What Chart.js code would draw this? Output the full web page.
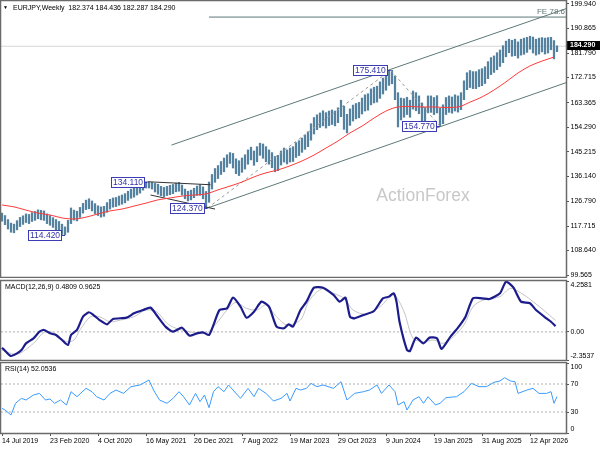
<!DOCTYPE html>
<html>
<head>
<meta charset="utf-8">
<script src="https://cdn.jsdelivr.net/npm/chart.js@4.4.1/dist/chart.umd.min.js"></script>
<style>
  html, body { margin: 0; padding: 0; background: #fff; }
  #wrap { position: relative; width: 600px; height: 450px; overflow: hidden; }
  canvas { position: absolute; left: 0; }
</style>
</head>
<body>
<div id="wrap">
  <canvas id="mainChart" width="600" height="278" style="top:0"></canvas>
  <canvas id="macdChart" width="600" height="82" style="top:279px"></canvas>
  <canvas id="rsiChart" width="600" height="89" style="top:361px"></canvas>
</div>
<script>
const FONT = '"Liberation Sans", Arial, "DejaVu Sans", sans-serif';

// Eje de tiempo: semanas contadas desde el 14 Jul 2019
const labelWeeks = [0, 32, 64, 96, 128, 160, 192, 224, 256, 288, 320, 352];
const weekLabels = ['14 Jul 2019', '23 Feb 2020', '4 Oct 2020', '16 May 2021', '26 Dec 2021', '7 Aug 2022',
                    '19 Mar 2023', '29 Oct 2023', '9 Jun 2024', '19 Jan 2025', '31 Aug 2025', '12 Apr 2026'];

// Precio (barras cada 2 semanas: mínimo y máximo)
const priceTicks = [199.940, 190.865, 181.790, 172.715, 163.365, 154.290, 145.215, 136.140, 126.790, 117.715, 108.640, 99.565];
const priceLow = [
  119.5,118.2,116.6,115.4,115.2,116.3,117.5,118.3,119.0,118.6,
  119.4,119.8,120.4,120.0,119.8,118.6,118.0,117.2,115.9,115.5,
  114.6,114.42,115.4,118.6,119.9,119.6,120.9,122.5,123.8,124.1,
  123.3,122.3,121.6,121.0,121.3,122.8,124.0,124.7,124.9,125.4,
  125.8,126.3,127.2,128.0,128.4,129.2,129.9,131.0,131.8,131.8,
  131.4,130.3,129.5,128.9,128.6,129.0,129.3,129.7,130.4,130.6,
  129.2,127.8,127.0,127.4,128.2,129.0,129.1,127.8,124.37,126.5,
  131.4,133.9,135.3,136.8,137.8,139.5,140.9,139.2,137.1,136.4,
  137.6,138.8,140.6,142.2,140.2,141.5,143.9,142.8,141.5,140.6,
  139.3,137.8,138.2,140.3,141.4,140.7,141.4,141.6,143.1,143.8,
  145.0,146.1,147.1,149.5,151.8,153.4,154.2,154.8,154.0,154.9,
  155.3,154.8,156.0,158.2,153.5,152.2,155.0,156.6,157.4,157.8,
  159.2,160.3,160.6,162.6,163.3,163.6,165.0,166.6,168.0,169.8,
  170.4,164.5,154.4,157.0,158.0,159.0,158.0,161.0,160.4,159.3,
  156.6,155.2,159.6,159.8,159.0,159.6,154.77,155.6,159.0,159.8,
  159.5,160.3,159.9,160.8,164.5,168.2,169.0,168.6,168.6,169.3,
  169.7,170.5,172.3,173.8,174.6,175.6,176.8,178.2,180.4,181.9,
  180.6,180.8,179.9,181.0,181.3,182.0,183.2,181.8,181.0,181.4,
  182.2,181.4,181.8,183.0,179.6,182.287
];
const priceHigh = [
  122.5,121.6,120.1,118.8,118.4,119.7,120.9,121.5,122.2,122.0,
  122.7,123.1,123.7,123.5,123.3,122.2,121.6,120.8,120.1,119.4,
  118.4,117.4,119.8,124.4,123.6,123.2,124.6,126.1,127.3,127.8,
  127.0,126.0,125.2,124.8,125.0,126.4,127.6,128.1,128.3,128.8,
  129.2,129.7,130.6,131.4,131.8,132.6,133.3,134.0,134.11,134.0,
  133.9,133.5,133.2,132.4,132.0,132.4,132.8,133.1,133.6,133.9,
  132.9,131.4,130.6,131.0,131.7,132.5,133.0,132.2,130.5,134.0,
  136.8,139.0,140.1,141.6,142.9,144.1,144.9,144.6,142.6,141.9,
  142.9,144.1,145.9,146.9,145.5,147.1,148.4,148.1,147.1,145.9,
  144.9,143.5,143.9,145.5,146.6,145.9,146.6,147.1,148.6,149.3,
  150.3,151.4,152.6,155.6,157.9,158.9,159.6,160.4,159.7,160.3,
  160.7,160.3,161.5,164.3,162.1,159.1,161.1,162.5,163.1,163.5,
  165.1,166.3,166.7,168.5,169.1,169.5,171.1,172.5,174.1,175.2,
  175.41,173.2,167.1,165.1,164.9,165.4,164.3,167.7,167.1,165.9,
  163.3,161.6,165.9,165.9,165.3,166.0,161.3,162.6,165.3,165.9,
  165.5,166.3,165.9,167.1,171.5,174.5,175.3,174.9,174.9,175.6,
  176.0,176.7,178.6,180.1,180.7,181.9,182.9,184.5,186.2,186.9,
  186.5,186.9,185.9,186.9,187.3,187.6,188.0,187.7,186.9,187.3,
  187.5,187.3,187.5,187.6,186.4,184.436
];
const lastOHLC = [182.374, 184.436, 182.287, 184.290];

// Media móvil (cada 8 semanas)
const maValues = [125.5,124.8,123.6,122.5,121.8,120.7,120.3,121.0,122.2,123.3,124.0,125.1,126.2,127.4,128.1,128.8,
  129.2,129.6,131.1,132.5,134.0,135.9,137.4,138.5,140.0,141.8,144.0,146.6,149.2,152.2,154.7,157.7,
  160.3,161.8,162.0,161.8,161.8,161.6,161.8,163.6,165.5,168.1,171.1,174.4,177.0,178.8,180.3];

// Pivotes marcados y líneas dibujadas
const pivotWeeks = [42, 97, 137, 259, 292];
const pivotValues = [114.42, 134.11, 124.37, 175.41, 154.77];
const upperChannel = [[113, 147.7], [376, 198.2]];
const lowerChannel = [[137, 124.37], [376, 170.8]];
const upperWedge = [[97, 134.11], [139, 133.0]];
const lowerWedge = [[99, 129.2], [142, 124.0]];
const feLevel = 195.1;
const feText = 'FE 78.6';

// MACD(12,26,9)
const macdWeeks = [0,3,6,10,13,16,21,25,28,32,36,40,44,46,50,54,58,61,65,70,74,83,88,94,99,103,109,114,120,125,
  130,134,138,141,145,150,154,159,163,168,173,178,183,188,191,194,199,203,208,214,221,225,229,232,235,241,248,254,258,261,
  263,265,270,272,276,281,285,290,293,299,304,309,314,320,325,332,336,341,346,352,356,363,366,369];
const macdValues = [-1.32,-1.71,-2.02,-1.80,-1.52,-0.96,-0.54,0.02,0.16,-0.12,-0.26,-0.68,-1.10,-0.26,0.16,1.27,1.64,1.41,0.99,0.63,
  1.08,1.19,1.55,1.83,2.03,1.41,0.44,0.02,0.35,-0.32,-0.12,-0.04,-0.26,0.58,1.83,1.97,2.86,2.11,1.19,1.69,
  2.53,2.11,0.44,0.30,0.63,0.44,1.83,2.53,3.70,3.70,3.09,2.53,2.86,1.27,1.13,1.41,1.75,2.81,2.95,3.23,
  2.53,0.85,-1.52,-1.60,-0.48,-0.96,-0.48,-0.54,-1.43,-0.40,0.35,1.27,2.81,2.81,2.75,3.23,4.20,3.70,2.53,2.39,
  1.83,1.13,0.85,0.48];
const signalWeeks = [0,10,21,28,34,43,48,52,59,65,72,79,88,96,103,110,116,125,136,143,150,156,163,170,176,183,190,199,205,214,
  221,228,234,243,252,261,268,274,281,288,294,301,308,314,321,332,339,348,354,361,369];
const signalValues = [-1.52,-1.88,-0.96,-0.04,-0.04,-0.82,-0.68,0.16,1.27,1.27,0.85,0.99,1.27,1.83,1.69,0.72,0.30,0.02,-0.12,0.72,
  1.83,2.47,1.97,1.83,2.25,1.27,0.58,0.99,2.67,3.64,3.23,2.81,1.83,1.47,2.11,3.09,1.69,-0.54,-0.82,-0.68,
  -0.96,-0.40,0.58,2.11,2.67,2.95,3.64,3.09,2.53,1.83,0.96];
const macdTicks = [4.2581, 0, -2.3537];
const macdLevels = [0];
const macdNow = [0.4809, 0.9625];

// RSI(14)
const rsiWeeks = [0,2,6,9,13,16,21,25,29,32,35,39,43,46,50,56,60,63,68,72,76,81,86,92,98,101,105,110,114,118,
  121,125,129,132,135,138,141,144,148,151,154,159,164,168,171,176,181,186,190,192,196,199,203,206,210,214,221,226,230,235,
  241,245,250,253,258,262,264,268,270,274,278,281,284,289,292,296,303,308,313,318,323,328,332,335,339,342,344,350,354,358,
  363,366,368,370];
const rsiValues = [35.2,32.9,25.7,42.4,49.5,47.1,54.3,56.6,47.1,48.6,42.4,47.1,40.0,59.0,51.9,63.8,59.0,51.9,47.1,56.6,
  61.4,56.6,66.2,68.6,75.7,61.4,47.1,42.4,49.5,59.0,51.9,40.0,56.6,44.8,54.3,36.2,59.0,66.2,59.0,68.6,
  61.4,49.5,63.8,51.9,63.8,56.6,45.7,49.5,56.6,45.7,63.8,61.4,63.8,70.9,66.2,68.6,63.8,73.3,47.1,56.6,
  59.0,61.4,68.6,56.6,68.6,59.0,40.0,44.8,32.9,47.1,51.9,42.4,51.9,40.0,42.4,50.5,51.9,59.0,70.9,66.2,
  66.2,72.4,74.3,79.0,74.3,73.3,56.6,61.4,63.8,56.6,56.6,59.0,42.4,52.05];
const rsiTicks = [100, 70, 30, 0];
const rsiLevels = [70, 30];
const rsiNow = 52.0536;

const X_MIN = -0.67, X_MAX = 376;

Chart.defaults.animation = false;
Chart.defaults.font.family = FONT;
Chart.defaults.events = [];
Chart.defaults.plugins.legend.display = false;
Chart.defaults.plugins.tooltip.enabled = false;

const toXY = (weeks, values) => weeks.map((w, i) => ({ x: w, y: values[i] }));
const pairXY = pts => pts.map(p => ({ x: p[0], y: p[1] }));
const levelXY = v => [{ x: X_MIN, y: v }, { x: X_MAX, y: v }];
const pivotXY = (a, b) => [{ x: pivotWeeks[a], y: pivotValues[a] }, { x: pivotWeeks[b], y: pivotValues[b] }];

function lineDs(data, color, width, extra) {
  return Object.assign({ type: 'line', data, borderColor: color, borderWidth: width,
    pointRadius: 0, fill: false, tension: 0 }, extra || {});
}

function yScale(min, max, ticks) {
  return {
    position: 'right', min, max,
    afterBuildTicks: s => { s.ticks = ticks.map(v => ({ value: v })); },
    afterFit: s => { s.width = 34; },
    ticks: { display: false },
    grid: { drawOnChartArea: false, drawTicks: true, tickLength: 3, color: '#555' },
    border: { display: true, color: '#555' }
  };
}

const hiddenX = { type: 'linear', min: X_MIN, max: X_MAX, offset: false, display: false };

// Etiquetas del eje derecho, metidas hacia dentro en los extremos (como MT4)
function sideLabels(format, margin) {
  return {
    id: 'sideLabels',
    afterDraw(chart) {
      const { ctx, chartArea: a, scales: { y } } = chart;
      ctx.save();
      ctx.font = '7px ' + FONT;
      ctx.fillStyle = '#000';
      ctx.textBaseline = 'middle';
      y.ticks.forEach(t => {
        let py = y.getPixelForValue(t.value);
        py = Math.min(Math.max(py, a.top + margin), a.bottom - margin);
        ctx.fillText(format(t.value), a.right + 4.5, py);
      });
      ctx.restore();
    }
  };
}

const panelFrame = {
  id: 'panelFrame',
  afterDatasetsDraw(chart) {
    const { ctx, chartArea: a } = chart;
    ctx.save();
    ctx.strokeStyle = '#6a6a6a';
    ctx.lineWidth = 1.5;
    ctx.strokeRect(a.left - 0.5, a.top - 0.5, a.right - a.left + 1, a.bottom - a.top + 1);
    ctx.restore();
  }
};

function panelTitle(text) {
  return {
    id: 'panelTitle',
    afterDraw(chart) {
      const { ctx, chartArea: a } = chart;
      ctx.save();
      ctx.font = '7px ' + FONT;
      ctx.fillStyle = '#000';
      ctx.textBaseline = 'middle';
      ctx.fillText(text, a.left + 4, a.top + 6);
      ctx.restore();
    }
  };
}

const mainDecor = {
  id: 'mainDecor',
  beforeDatasetsDraw(chart) {
    const { ctx } = chart;
    ctx.save();
    ctx.font = '17.5px ' + FONT;
    ctx.fillStyle = '#c8c8c8';
    ctx.textAlign = 'center';
    ctx.textBaseline = 'middle';
    ctx.fillText('ActionForex', 423, 196);
    ctx.restore();
  },
  afterDatasetsDraw(chart) {
    const { ctx, chartArea: a, scales: { x, y } } = chart;
    ctx.save();

    // cajas de los pivotes
    ctx.font = '8.5px ' + FONT;
    ctx.textBaseline = 'middle';
    pivotWeeks.forEach((w, i) => {
      const px = x.getPixelForValue(w);
      const py = Math.round(y.getPixelForValue(pivotValues[i]));
      const txt = pivotValues[i].toFixed(3);
      const tw = ctx.measureText(txt).width;
      const right = Math.round(px - 4), left = Math.round(right - tw - 3);
      ctx.strokeStyle = '#3c3cb4';
      ctx.lineWidth = 1;
      ctx.beginPath();
      ctx.moveTo(right, py + 0.5);
      ctx.lineTo(px, py + 0.5);
      ctx.stroke();
      ctx.fillStyle = '#fff';
      ctx.fillRect(left, py - 4, right - left, 10);
      ctx.strokeRect(left + 0.5, py - 4.5, right - left, 10);
      ctx.fillStyle = '#3333a8';
      ctx.fillText(txt, left + 2, py + 1);
    });

    // texto del nivel FE
    ctx.font = '8px ' + FONT;
    ctx.fillStyle = '#5f7575';
    ctx.textAlign = 'right';
    ctx.textBaseline = 'bottom';
    ctx.fillText(feText, a.right - 1, y.getPixelForValue(feLevel) - 1);

    // cabecera
    ctx.textAlign = 'left';
    ctx.textBaseline = 'middle';
    ctx.fillStyle = '#000';
    ctx.font = '5px ' + FONT;
    ctx.fillText('\u25BC', 3, 8);
    ctx.font = '7px ' + FONT;
    ctx.fillText('EURJPY,Weekly  ' + lastOHLC.map(v => v.toFixed(3)).join(' '), 13, 8);

    // etiqueta del último precio
    const ty = Math.round(y.getPixelForValue(lastOHLC[3]));
    ctx.fillStyle = '#000';
    ctx.fillRect(a.right + 1, ty - 5, 33, 9);
    ctx.fillStyle = '#fff';
    ctx.font = 'bold 7px ' + FONT;
    ctx.fillText(lastOHLC[3].toFixed(3), a.right + 4, ty - 0.5);
    ctx.restore();
  }
};

const bars = priceLow.map((lo, i) => ({ x: i * 2, y: [lo, priceHigh[i]] }));
const maData = maValues.map((v, i) => ({ x: i * 8, y: v }));

new Chart(document.getElementById('mainChart'), {
  type: 'bar',
  data: {
    datasets: [
      lineDs(maData, '#ff3b3b', 1, { cubicInterpolationMode: 'monotone' }),
      lineDs(pairXY(upperWedge), '#333', 1),
      lineDs(pairXY(lowerWedge), '#333', 1),
      lineDs(pivotXY(2, 3), '#9a9a9a', 1, { borderDash: [3, 3] }),
      lineDs(pivotXY(3, 4), '#9a9a9a', 1, { borderDash: [3, 3] }),
      { type: 'bar', data: bars, backgroundColor: '#55839f', barThickness: 1.6, grouped: false },
      lineDs(pairXY(upperChannel), '#5d7878', 1),
      lineDs(pairXY(lowerChannel), '#5d7878', 1),
      lineDs(levelXY(feLevel).map(p => ({ x: Math.max(p.x, 138), y: p.y })), '#5d7878', 1),
      lineDs(levelXY(lastOHLC[3]), '#d6d6d6', 1)
    ]
  },
  options: {
    responsive: false,
    layout: { padding: { top: 1, bottom: 1, left: 1, right: 0 } },
    scales: { x: hiddenX, y: yScale(98.83, 201.05, priceTicks) }
  },
  plugins: [mainDecor, panelFrame, sideLabels(v => v.toFixed(3), 2)]
});

new Chart(document.getElementById('macdChart'), {
  type: 'line',
  data: {
    datasets: [
      lineDs(toXY(macdWeeks, macdValues), '#1c1c8c', 2.2, { tension: 0.2 }),
      lineDs(toXY(signalWeeks, signalValues), '#c4c4c4', 1, { tension: 0.3 }),
      lineDs(levelXY(macdLevels[0]), '#b0b0b0', 1, { borderDash: [2, 2] })
    ]
  },
  options: {
    responsive: false,
    layout: { padding: { top: 2, bottom: 1, left: 1, right: 0 } },
    scales: { x: hiddenX, y: yScale(-2.3537, 4.2581, macdTicks) }
  },
  plugins: [panelFrame, panelTitle('MACD(12,26,9) ' + macdNow.map(v => v.toFixed(4)).join(' ')),
            sideLabels(v => v === 0 ? '0.00' : v.toFixed(4), 4)]
});

new Chart(document.getElementById('rsiChart'), {
  type: 'line',
  data: {
    datasets: [
      lineDs(toXY(rsiWeeks, rsiValues), '#3a9bff', 1),
      lineDs(levelXY(rsiLevels[0]), '#b0b0b0', 1, { borderDash: [2, 2] }),
      lineDs(levelXY(rsiLevels[1]), '#b0b0b0', 1, { borderDash: [2, 2] })
    ]
  },
  options: {
    responsive: false,
    layout: { padding: { top: 2, bottom: 1, left: 1, right: 0 } },
    scales: {
      x: {
        type: 'linear', min: X_MIN, max: X_MAX, offset: false,
        afterBuildTicks: s => { s.ticks = labelWeeks.map(v => ({ value: v })); },
        afterFit: s => { s.height = 16; },
        ticks: { autoSkip: false, maxRotation: 0, align: 'start', padding: 1, color: '#000',
                 font: { size: 7, family: FONT },
                 callback: v => weekLabels[labelWeeks.indexOf(v)] },
        grid: { drawOnChartArea: false, drawTicks: true, tickLength: 3, color: '#555' },
        border: { display: false }
      },
      y: yScale(0, 100, rsiTicks)
    }
  },
  plugins: [panelFrame, panelTitle('RSI(14) ' + rsiNow.toFixed(4)), sideLabels(v => String(v), 4)]
});
</script>
</body>
</html>
